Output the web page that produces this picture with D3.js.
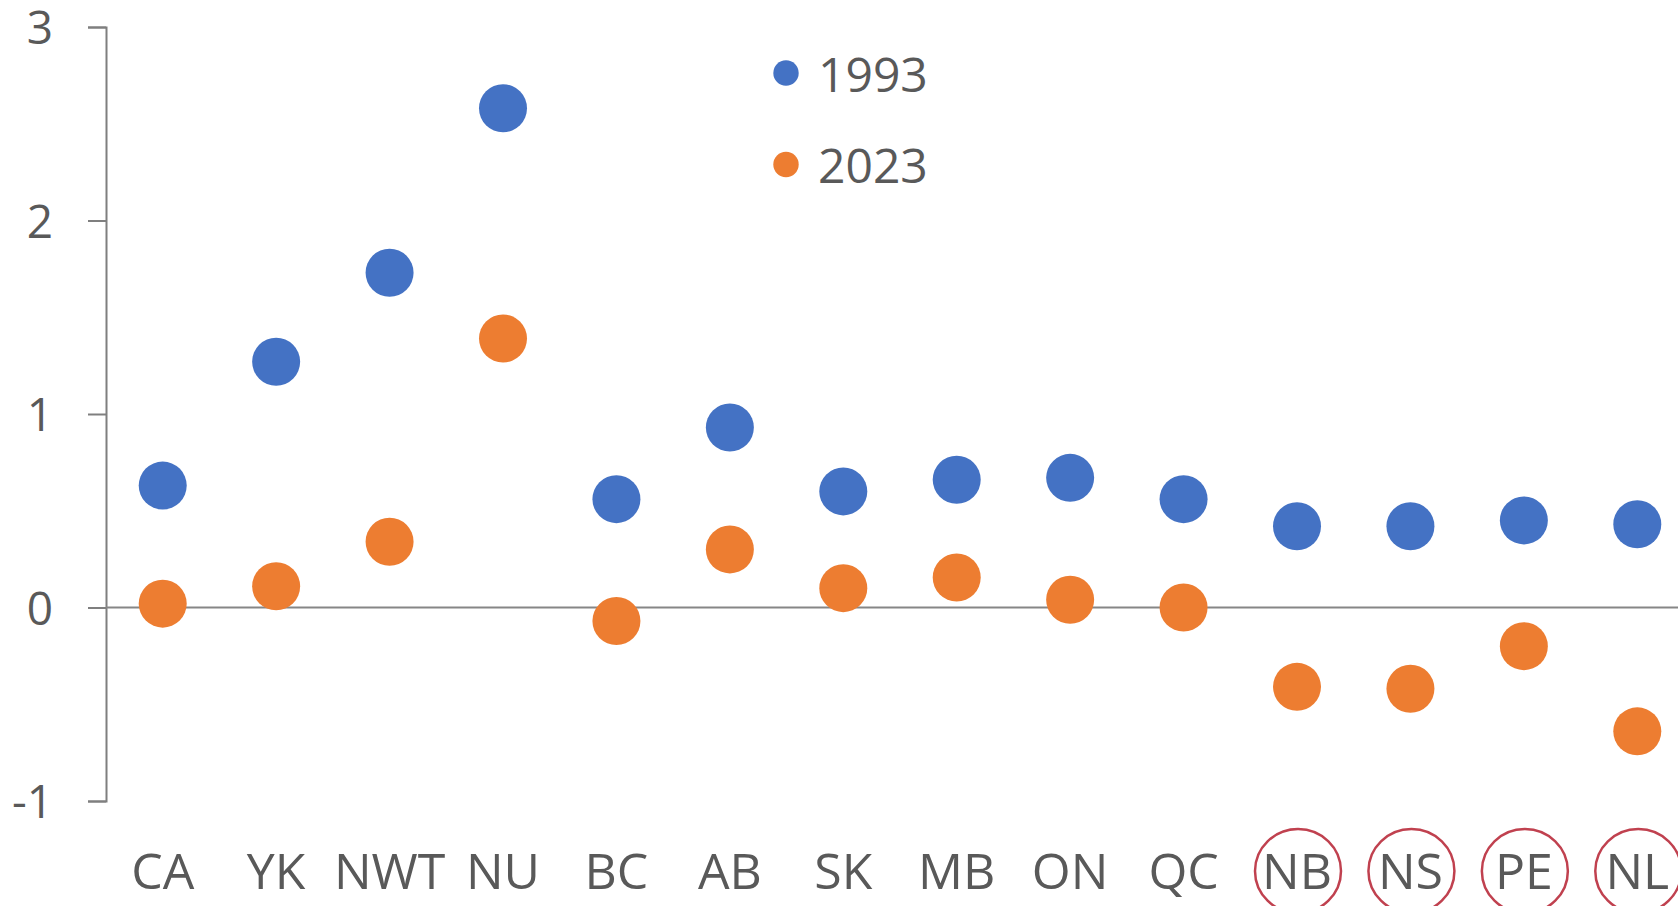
<!DOCTYPE html>
<html>
<head>
<meta charset="utf-8">
<script src="https://cdn.jsdelivr.net/npm/d3@7"></script>
<style>
  body { margin: 0; background: #fff; }
  text { font-family: "Open Sans", sans-serif; fill: #595959; }
</style>
</head>
<body>
<div id="chart"></div>
<script>
// data
var provinces = ["CA", "YK", "NWT", "NU", "BC", "AB", "SK", "MB", "ON", "QC", "NB", "NS", "PE", "NL"];
var values1993 = [0.63, 1.27, 1.73, 2.58, 0.56, 0.93, 0.60, 0.66, 0.67, 0.56, 0.42, 0.42, 0.45, 0.43];
var values2023 = [0.02, 0.11, 0.34, 1.39, -0.07, 0.30, 0.10, 0.155, 0.04, 0.00, -0.41, -0.42, -0.20, -0.64];
var seriesNames = ["1993", "2023"];
var yTicks = [3, 2, 1, 0, -1];
var circled = ["NB", "NS", "PE", "NL"];

var width = 1678, height = 906;
var colors = ["#4472C4", "#ED7D31"];

var svg = d3.select("#chart")
  .append("svg")
  .attr("width", width)
  .attr("height", height);

var x = d3.scaleBand()
  .domain(provinces)
  .range([106, 1694])
  .padding(0);

var y = d3.scaleLinear()
  .domain([-1, 3])
  .range([801, 27]);

var cx = d => x(d) + x.bandwidth() / 2;

// y axis (plain hyphen for negatives, like the original)
var yAxis = svg.append("g")
  .attr("transform", "translate(106,0)")
  .call(d3.axisLeft(y).tickValues(yTicks).tickSize(18).tickPadding(35).tickFormat(d => String(d)));
yAxis.select(".domain").attr("stroke", "#7f7f7f").attr("stroke-width", 2);
yAxis.selectAll(".tick line").attr("stroke", "#7f7f7f").attr("stroke-width", 2);
yAxis.selectAll(".tick text")
  .attr("font-size", 46)
  .attr("font-family", "Open Sans, sans-serif")
  .attr("fill", "#595959")
  .attr("dy", "0.36em");

// zero line
svg.append("line")
  .attr("x1", 106)
  .attr("x2", width)
  .attr("y1", y(0))
  .attr("y2", y(0))
  .attr("stroke", "#868686")
  .attr("stroke-width", 2);

// category labels
svg.selectAll(".xlab")
  .data(provinces)
  .enter()
  .append("text")
  .attr("class", "xlab")
  .attr("x", d => cx(d))
  .attr("y", 889)
  .attr("text-anchor", "middle")
  .attr("font-size", 50)
  .text(d => d);

// red ovals around the Atlantic provinces
svg.selectAll(".oval")
  .data(circled)
  .enter()
  .append("ellipse")
  .attr("class", "oval")
  .attr("cx", d => cx(d) + 1)
  .attr("cy", 871)
  .attr("rx", 43)
  .attr("ry", 42)
  .attr("fill", "none")
  .attr("stroke", "#C0414F")
  .attr("stroke-width", 2.5);

// dots
[values1993, values2023].forEach(function(vals, i) {
  svg.selectAll(".dot" + i)
    .data(vals)
    .enter()
    .append("circle")
    .attr("class", "dot" + i)
    .attr("cx", (d, j) => cx(provinces[j]))
    .attr("cy", d => y(d))
    .attr("r", 24)
    .attr("fill", colors[i]);
});

// legend
var legend = svg.selectAll(".legend")
  .data(seriesNames)
  .enter()
  .append("g")
  .attr("class", "legend")
  .attr("transform", (d, i) => "translate(786," + (73 + i * 91.5) + ")");
legend.append("circle")
  .attr("r", 12.7)
  .attr("fill", (d, i) => colors[i]);
legend.append("text")
  .attr("x", 32)
  .attr("y", 18.5)
  .attr("font-size", 48)
  .text(d => d);
</script>
</body>
</html>
